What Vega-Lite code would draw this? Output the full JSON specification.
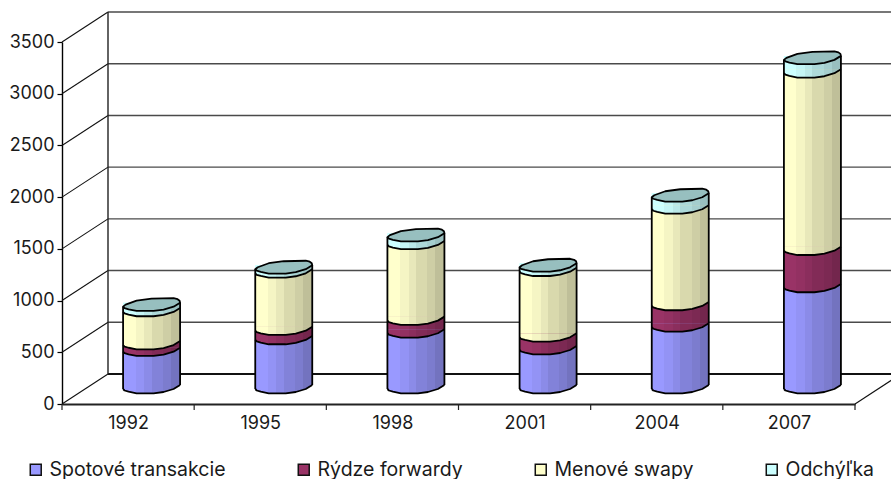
{
  "$schema": "https://vega.github.io/schema/vega-lite/v6.json",
  "width": 793,
  "height": 362,
  "padding": {"left": 62, "top": 42, "right": 36, "bottom": 75},
  "autosize": {"type": "none"},
  "background": "white",
  "config": {
    "view": {"stroke": null},
    "font": "Inter",
    "axis": {"grid": false, "labelFont": "Inter", "labelFontSize": 18, "labelColor": "#1a1a1a"}
  },
  "datasets": {
    "volumes": [
      {"year": 1992, "type": "Spotové transakcie", "value": 361},
      {"year": 1992, "type": "Rýdze forwardy", "value": 64},
      {"year": 1992, "type": "Menové swapy", "value": 320},
      {"year": 1992, "type": "Odchýľka", "value": 51},
      {"year": 1995, "type": "Spotové transakcie", "value": 474},
      {"year": 1995, "type": "Rýdze forwardy", "value": 90},
      {"year": 1995, "type": "Menové swapy", "value": 555},
      {"year": 1995, "type": "Odchýľka", "value": 39},
      {"year": 1998, "type": "Spotové transakcie", "value": 539},
      {"year": 1998, "type": "Rýdze forwardy", "value": 122},
      {"year": 1998, "type": "Menové swapy", "value": 732},
      {"year": 1998, "type": "Odchýľka", "value": 75},
      {"year": 2001, "type": "Spotové transakcie", "value": 377},
      {"year": 2001, "type": "Rýdze forwardy", "value": 123},
      {"year": 2001, "type": "Menové swapy", "value": 634},
      {"year": 2001, "type": "Odchýľka", "value": 43},
      {"year": 2004, "type": "Spotové transakcie", "value": 597},
      {"year": 2004, "type": "Rýdze forwardy", "value": 206},
      {"year": 2004, "type": "Menové swapy", "value": 935},
      {"year": 2004, "type": "Odchýľka", "value": 116},
      {"year": 2007, "type": "Spotové transakcie", "value": 977},
      {"year": 2007, "type": "Rýdze forwardy", "value": 360},
      {"year": 2007, "type": "Menové swapy", "value": 1716},
      {"year": 2007, "type": "Odchýľka", "value": 129}
    ],
    "levels": [
      {"level": 0}, {"level": 500}, {"level": 1000}, {"level": 1500},
      {"level": 2000}, {"level": 2500}, {"level": 3000}, {"level": 3500}
    ],
    "edges": [
      {"edge": 1990.5}, {"edge": 1993.5}, {"edge": 1996.5}, {"edge": 1999.5},
      {"edge": 2002.5}, {"edge": 2005.5}, {"edge": 2008.5}
    ]
  },
  "data": {"name": "volumes"},
  "transform": [
    {"stack": "value", "groupby": ["year"], "as": ["y0", "y1"]}
  ],
  "layer": [
    {
      "data": {"name": "levels"},
      "mark": {"type": "rule", "color": "#4a4a4a", "strokeWidth": 1.4, "xOffset": 46, "x2Offset": 46, "yOffset": -30, "y2Offset": -30},
      "encoding": {
        "x": {"datum": 1990.5, "type": "quantitative", "scale": {"domain": [1990.5, 2008.5], "nice": false, "zero": false, "padding": 0}},
        "x2": {"datum": 2008.5},
        "y": {"field": "level", "type": "quantitative", "scale": {"domain": [0, 3500], "nice": false, "padding": 0},
          "axis": {"values": [0, 500, 1000, 1500, 2000, 2500, 3000, 3500], "format": "d", "title": null, "tickSize": 5, "tickColor": "#000000", "tickWidth": 1.2, "domainColor": "#000000", "domainWidth": 1.4, "labelPadding": 3}}
      }
    },
    {
      "data": {"name": "levels"},
      "mark": {"type": "rule", "color": "#111111", "strokeWidth": 1.1, "x2Offset": 46, "y2Offset": -30},
      "encoding": {
        "x": {"datum": 1990.5, "type": "quantitative"},
        "x2": {"datum": 1990.5},
        "y": {"field": "level", "type": "quantitative"},
        "y2": {"field": "level"}
      }
    },
    {
      "data": {"values": [{"level": 0}]},
      "mark": {"type": "rule", "color": "#111111", "strokeWidth": 1.1, "x2Offset": 46, "y2Offset": -30},
      "encoding": {
        "x": {"datum": 2008.5, "type": "quantitative"},
        "x2": {"datum": 2008.5},
        "y": {"field": "level", "type": "quantitative"},
        "y2": {"field": "level"}
      }
    },
    {
      "data": {"values": [{"level": 0}]},
      "mark": {"type": "rule", "color": "#111111", "strokeWidth": 2, "xOffset": 46, "x2Offset": 46, "yOffset": -30, "y2Offset": -30},
      "encoding": {
        "x": {"datum": 1990.5, "type": "quantitative"},
        "x2": {"datum": 2008.5},
        "y": {"field": "level", "type": "quantitative"}
      }
    },
    {
      "data": {"values": [{"low": 0, "high": 3500}]},
      "mark": {"type": "rule", "color": "#222222", "strokeWidth": 1.4, "xOffset": 46, "yOffset": -30, "y2Offset": -30},
      "encoding": {
        "x": {"datum": 1990.5, "type": "quantitative"},
        "y": {"field": "low", "type": "quantitative"},
        "y2": {"field": "high"}
      }
    },
    {
      "data": {"name": "edges"},
      "mark": {"type": "rule", "color": "#222222", "strokeWidth": 1.2, "y2Offset": 6},
      "encoding": {
        "x": {"field": "edge", "type": "quantitative"},
        "y": {"datum": 0, "type": "quantitative"},
        "y2": {"datum": 0}
      }
    },
    {
      "mark": {"type": "bar", "size": 57, "xOffset": 23.5, "yOffset": -19, "y2Offset": -19},
      "encoding": {
        "x": {"field": "year", "type": "quantitative",
          "axis": {"values": [1992, 1995, 1998, 2001, 2004, 2007], "format": "d", "title": null, "ticks": false, "domainColor": "#222222", "domainWidth": 1.8, "labelPadding": 10}},
        "y": {"field": "y1", "type": "quantitative"},
        "y2": {"field": "y0"},
        "color": {
          "field": "type", "type": "nominal",
          "scale": {
            "domain": ["Spotové transakcie", "Rýdze forwardy", "Menové swapy", "Odchýľka"],
            "range": ["#9999FF", "#993366", "#FFFFCC", "#CCFFFF"]
          },
          "legend": {
            "orient": "none", "legendX": -36, "legendY": 418, "title": null, "direction": "horizontal", "columns": 4, "gridAlign": "none",
            "columnPadding": 68, "symbolType": "square", "symbolSize": 120, "symbolStrokeColor": "#111111", "symbolStrokeWidth": 1.5, "symbolOpacity": 1,
            "labelFont": "Inter", "labelFontSize": 19.5, "labelColor": "#1a1a1a", "labelOffset": 4, "labelLimit": 260
          }
        }
      }
    },
    {
      "transform": [{"filter": "datum.type === 'Spotové transakcie'"}],
      "encoding": {"x": {"field": "year", "type": "quantitative"}},
      "layer": [
        {
          "mark": {"type": "bar", "size": 57, "xOffset": 23.5, "yOffset": -19, "y2Offset": -19,
            "fill": {"gradient": "linear", "x1": 0, "x2": 1, "y1": 0, "y2": 0, "stops": [{"offset": 0, "color": "#9999FF"}, {"offset": 0.22, "color": "#9999FF"}, {"offset": 0.22, "color": "#9393F5"}, {"offset": 0.37, "color": "#9393F5"}, {"offset": 0.37, "color": "#8B8BE8"}, {"offset": 0.5, "color": "#8B8BE8"}, {"offset": 0.5, "color": "#8282D9"}, {"offset": 0.7, "color": "#8282D9"}, {"offset": 0.7, "color": "#7C7CCE"}, {"offset": 0.84, "color": "#7C7CCE"}, {"offset": 0.84, "color": "#7373BF"}, {"offset": 1, "color": "#7373BF"}]}},
          "encoding": {"y": {"field": "y1", "type": "quantitative"}, "y2": {"field": "y0"}}
        },
        {
          "mark": {"type": "point", "filled": true, "opacity": 1, "size": 4, "xOffset": 23.5, "yOffset": -15,
            "shape": "M-28.5,-4 L-28.5,0 L-27,1.5 L-23,2.7 L-15,4.3 L2,4.3 L12,3 L22,0 L28.5,-4 Z",
            "fill": {"gradient": "linear", "x1": 0, "x2": 1, "y1": 0, "y2": 0, "stops": [{"offset": 0, "color": "#9999FF"}, {"offset": 0.22, "color": "#9999FF"}, {"offset": 0.22, "color": "#9393F5"}, {"offset": 0.37, "color": "#9393F5"}, {"offset": 0.37, "color": "#8B8BE8"}, {"offset": 0.5, "color": "#8B8BE8"}, {"offset": 0.5, "color": "#8282D9"}, {"offset": 0.7, "color": "#8282D9"}, {"offset": 0.7, "color": "#7C7CCE"}, {"offset": 0.84, "color": "#7C7CCE"}, {"offset": 0.84, "color": "#7373BF"}, {"offset": 1, "color": "#7373BF"}]}},
          "encoding": {"y": {"field": "y0", "type": "quantitative"}}
        }
      ]
    },
    {
      "transform": [{"filter": "datum.type === 'Rýdze forwardy'"}],
      "encoding": {"x": {"field": "year", "type": "quantitative"}},
      "layer": [
        {
          "mark": {"type": "bar", "size": 57, "xOffset": 23.5, "yOffset": -19, "y2Offset": -19,
            "fill": {"gradient": "linear", "x1": 0, "x2": 1, "y1": 0, "y2": 0, "stops": [{"offset": 0, "color": "#993366"}, {"offset": 0.22, "color": "#993366"}, {"offset": 0.22, "color": "#933162"}, {"offset": 0.37, "color": "#933162"}, {"offset": 0.37, "color": "#8B2E5D"}, {"offset": 0.5, "color": "#8B2E5D"}, {"offset": 0.5, "color": "#822B57"}, {"offset": 0.7, "color": "#822B57"}, {"offset": 0.7, "color": "#7C2953"}, {"offset": 0.84, "color": "#7C2953"}, {"offset": 0.84, "color": "#73264D"}, {"offset": 1, "color": "#73264D"}]}},
          "encoding": {"y": {"field": "y1", "type": "quantitative"}, "y2": {"field": "y0"}}
        },
        {
          "mark": {"type": "point", "filled": true, "opacity": 1, "size": 4, "xOffset": 23.5, "yOffset": -15,
            "shape": "M-28.5,-4 L-28.5,0 L-27,1.5 L-23,2.7 L-15,4.3 L2,4.3 L12,3 L22,0 L28.5,-4 Z",
            "fill": {"gradient": "linear", "x1": 0, "x2": 1, "y1": 0, "y2": 0, "stops": [{"offset": 0, "color": "#993366"}, {"offset": 0.22, "color": "#993366"}, {"offset": 0.22, "color": "#933162"}, {"offset": 0.37, "color": "#933162"}, {"offset": 0.37, "color": "#8B2E5D"}, {"offset": 0.5, "color": "#8B2E5D"}, {"offset": 0.5, "color": "#822B57"}, {"offset": 0.7, "color": "#822B57"}, {"offset": 0.7, "color": "#7C2953"}, {"offset": 0.84, "color": "#7C2953"}, {"offset": 0.84, "color": "#73264D"}, {"offset": 1, "color": "#73264D"}]}},
          "encoding": {"y": {"field": "y0", "type": "quantitative"}}
        }
      ]
    },
    {
      "transform": [{"filter": "datum.type === 'Menové swapy'"}],
      "encoding": {"x": {"field": "year", "type": "quantitative"}},
      "layer": [
        {
          "mark": {"type": "bar", "size": 57, "xOffset": 23.5, "yOffset": -19, "y2Offset": -19,
            "fill": {"gradient": "linear", "x1": 0, "x2": 1, "y1": 0, "y2": 0, "stops": [{"offset": 0, "color": "#FFFFCC"}, {"offset": 0.22, "color": "#FFFFCC"}, {"offset": 0.22, "color": "#F5F5C4"}, {"offset": 0.37, "color": "#F5F5C4"}, {"offset": 0.37, "color": "#E8E8BA"}, {"offset": 0.5, "color": "#E8E8BA"}, {"offset": 0.5, "color": "#D9D9AD"}, {"offset": 0.7, "color": "#D9D9AD"}, {"offset": 0.7, "color": "#CECEA5"}, {"offset": 0.84, "color": "#CECEA5"}, {"offset": 0.84, "color": "#BFBF99"}, {"offset": 1, "color": "#BFBF99"}]}},
          "encoding": {"y": {"field": "y1", "type": "quantitative"}, "y2": {"field": "y0"}}
        },
        {
          "mark": {"type": "point", "filled": true, "opacity": 1, "size": 4, "xOffset": 23.5, "yOffset": -15,
            "shape": "M-28.5,-4 L-28.5,0 L-27,1.5 L-23,2.7 L-15,4.3 L2,4.3 L12,3 L22,0 L28.5,-4 Z",
            "fill": {"gradient": "linear", "x1": 0, "x2": 1, "y1": 0, "y2": 0, "stops": [{"offset": 0, "color": "#FFFFCC"}, {"offset": 0.22, "color": "#FFFFCC"}, {"offset": 0.22, "color": "#F5F5C4"}, {"offset": 0.37, "color": "#F5F5C4"}, {"offset": 0.37, "color": "#E8E8BA"}, {"offset": 0.5, "color": "#E8E8BA"}, {"offset": 0.5, "color": "#D9D9AD"}, {"offset": 0.7, "color": "#D9D9AD"}, {"offset": 0.7, "color": "#CECEA5"}, {"offset": 0.84, "color": "#CECEA5"}, {"offset": 0.84, "color": "#BFBF99"}, {"offset": 1, "color": "#BFBF99"}]}},
          "encoding": {"y": {"field": "y0", "type": "quantitative"}}
        }
      ]
    },
    {
      "transform": [{"filter": "datum.type === 'Odchýľka'"}],
      "encoding": {"x": {"field": "year", "type": "quantitative"}},
      "layer": [
        {
          "mark": {"type": "bar", "size": 57, "xOffset": 23.5, "yOffset": -19, "y2Offset": -19,
            "fill": {"gradient": "linear", "x1": 0, "x2": 1, "y1": 0, "y2": 0, "stops": [{"offset": 0, "color": "#CCFFFF"}, {"offset": 0.22, "color": "#CCFFFF"}, {"offset": 0.22, "color": "#C4F5F5"}, {"offset": 0.37, "color": "#C4F5F5"}, {"offset": 0.37, "color": "#BAE8E8"}, {"offset": 0.5, "color": "#BAE8E8"}, {"offset": 0.5, "color": "#ADD9D9"}, {"offset": 0.7, "color": "#ADD9D9"}, {"offset": 0.7, "color": "#A5CECE"}, {"offset": 0.84, "color": "#A5CECE"}, {"offset": 0.84, "color": "#99BFBF"}, {"offset": 1, "color": "#99BFBF"}]}},
          "encoding": {"y": {"field": "y1", "type": "quantitative"}, "y2": {"field": "y0"}}
        },
        {
          "mark": {"type": "point", "filled": true, "opacity": 1, "size": 4, "xOffset": 23.5, "yOffset": -15,
            "shape": "M-28.5,-4 L-28.5,0 L-27,1.5 L-23,2.7 L-15,4.3 L2,4.3 L12,3 L22,0 L28.5,-4 Z",
            "fill": {"gradient": "linear", "x1": 0, "x2": 1, "y1": 0, "y2": 0, "stops": [{"offset": 0, "color": "#CCFFFF"}, {"offset": 0.22, "color": "#CCFFFF"}, {"offset": 0.22, "color": "#C4F5F5"}, {"offset": 0.37, "color": "#C4F5F5"}, {"offset": 0.37, "color": "#BAE8E8"}, {"offset": 0.5, "color": "#BAE8E8"}, {"offset": 0.5, "color": "#ADD9D9"}, {"offset": 0.7, "color": "#ADD9D9"}, {"offset": 0.7, "color": "#A5CECE"}, {"offset": 0.84, "color": "#A5CECE"}, {"offset": 0.84, "color": "#99BFBF"}, {"offset": 1, "color": "#99BFBF"}]}},
          "encoding": {"y": {"field": "y0", "type": "quantitative"}}
        }
      ]
    },
    {
      "mark": {"type": "point", "filled": false, "opacity": 1, "size": 4, "xOffset": 23.5, "yOffset": -15, "stroke": "#000000", "strokeWidth": 1.8, "strokeJoin": "round",
        "shape": "M-28.5,0 L-27,1.5 L-23,2.7 L-15,4.3 L2,4.3 L12,3 L22,0 L28.5,-4"},
      "encoding": {
        "x": {"field": "year", "type": "quantitative"},
        "y": {"field": "y0", "type": "quantitative"}
      }
    },
    {
      "transform": [{"filter": "datum.type === 'Odchýľka'"}],
      "mark": {"type": "point", "filled": true, "opacity": 1, "size": 4, "xOffset": 23.5, "yOffset": -15, "fill": "#97BFBF", "stroke": "#000000", "strokeWidth": 1.8, "strokeJoin": "round",
        "shape": "M-28.5,0 L-27,1.5 L-23,2.7 L-15,4.3 L2,4.3 L12,3 L22,0 L28.5,-4 L28,-6 L26,-7.5 L22,-8.5 L0,-8 L-15,-6 L-26,-2 Z"},
      "encoding": {
        "x": {"field": "year", "type": "quantitative"},
        "y": {"field": "y1", "type": "quantitative"}
      }
    },
    {
      "transform": [{"filter": "datum.type === 'Odchýľka'"}],
      "mark": {"type": "rule", "color": "#000000", "strokeWidth": 1.8, "xOffset": -5, "yOffset": -15, "y2Offset": -15},
      "encoding": {
        "x": {"field": "year", "type": "quantitative"},
        "y": {"field": "y1", "type": "quantitative"},
        "y2": {"datum": 0}
      }
    },
    {
      "transform": [{"filter": "datum.type === 'Odchýľka'"}],
      "mark": {"type": "rule", "color": "#000000", "strokeWidth": 1.8, "xOffset": 52, "yOffset": -19, "y2Offset": -19},
      "encoding": {
        "x": {"field": "year", "type": "quantitative"},
        "y": {"field": "y1", "type": "quantitative"},
        "y2": {"datum": 0}
      }
    }
  ]
}
